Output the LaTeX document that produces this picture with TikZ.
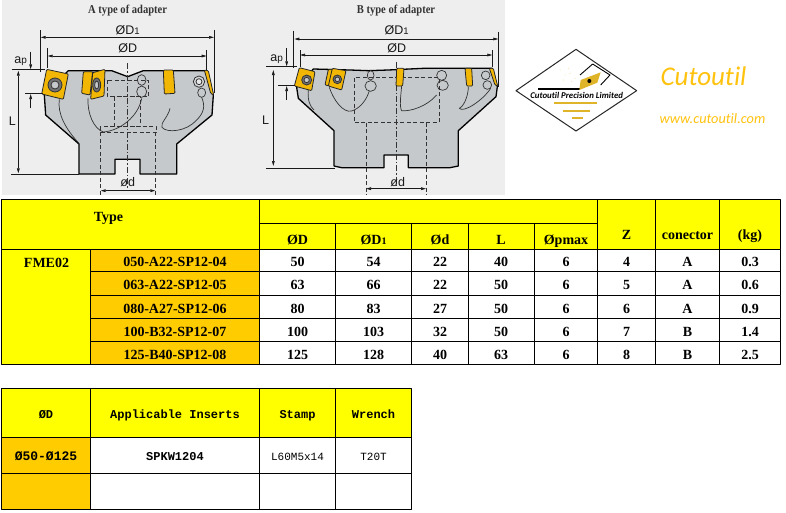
\documentclass[tikz,border=0pt]{standalone}
\usepackage{fontspec}
\setmainfont{Liberation Serif}
\newfontfamily\sansfnt{Liberation Sans}
\newfontfamily\monofnt{Liberation Mono}
\newfontfamily\logofnt[Ligatures=NoCommon]{Carlito}
\usetikzlibrary{arrows.meta}
\definecolor{headyellow}{HTML}{FFFF00}
\definecolor{codeorange}{HTML}{FFCC00}
\definecolor{sheetgray}{HTML}{EEEEEE}
\definecolor{toolgray}{HTML}{C6C9CB}
\definecolor{insertgold}{HTML}{F2B705}
\definecolor{logogold}{HTML}{FFC20E}
\definecolor{logoline}{HTML}{E0B428}
\tikzset{
	gridline/.style={draw=black, line width=1pt},
	tabtext/.style={font=\fontsize{14}{14}\selectfont\bfseries, inner sep=0pt, anchor=base},
	monohead/.style={font=\fontsize{12}{12}\monofnt\bfseries, inner sep=0pt, anchor=base},
	monotext/.style={font=\fontsize{11}{11}\monofnt, inner sep=0pt, anchor=base},
	sketchtitle/.style={font=\fontsize{12}{12}\selectfont\bfseries, text=black!80, inner sep=0pt},
	dimtext/.style={font=\fontsize{12.5}{12.5}\sansfnt, text=black!90, inner sep=0pt},
	dimline/.style={line width=0.65pt, black!90},
	hiddenline/.style={line width=1pt, black!80, dash pattern=on 4pt off 2.5pt},
	centerline/.style={line width=0.6pt, black!80, dash pattern=on 6pt off 2pt on 1.5pt off 2pt},
	toolbody/.style={draw=black, line width=1.3pt, fill=toolgray, line join=round},
	insertpiece/.style={draw=black!85, line width=0.8pt, fill=insertgold, rounded corners=1pt},
	flowline/.style={line width=0.7pt, black!80},
	screw/.style={draw=black!80, line width=0.8pt, fill=toolgray!70},
}
\begin{document}
\begin{tikzpicture}[x=1pt, y=-1pt, line join=round, >={Stealth[inset=0pt,length=5pt,angle'=30]}]
	\useasboundingbox (0,0) rectangle (786,512);
	\fill[sheetgray] (2,0) rectangle (505,195);
	% A type of adapter
	\begin{scope}[scale=1/3]
		\draw[toolbody] (133,285) -- (137,345) -- (237,432) -- (237,522) -- (345,522) -- (345,478) -- (420,478) -- (420,522) -- (530,522) -- (530,432) -- (636,345) -- (640,285) -- (615,212) -- (430,212) -- (383,230) -- (335,212) -- (205,212) -- cycle;
		\draw[flowline] (178,298) .. controls (172,340) and (195,385) .. (237,430);
		\draw[flowline] (264,295) .. controls (262,340) and (280,385) .. (310,396) .. controls (360,392) and (415,350) .. (425,295);
		\draw[flowline] (510,325) .. controls (505,350) and (480,370) .. (486,382) .. controls (500,400) and (560,395) .. (590,360) .. controls (610,340) and (618,320) .. (604,290);
		\draw[flowline, fill=toolgray] (425,240) ellipse (13 and 16);
		\draw[flowline, fill=toolgray] (425,275) ellipse (15 and 17);
		\draw[flowline, fill=toolgray] (605,278) ellipse (12 and 14);
		\draw[screw] (597,245) circle (17);
		\draw[screw, fill=toolgray!40] (597,245) circle (9);
		\draw[hiddenline] (322,240) rectangle (445,290);
		\draw[hiddenline] (343,290) rectangle (422,378);
		\draw[hiddenline] (300,380) rectangle (470,397);
		\draw[hiddenline] (302,397) -- (302,585);
		\draw[hiddenline] (466,397) -- (466,585);
		\draw[centerline] (383,190) -- (383,570);
		\draw[insertpiece] (140,208) -- (205,222) -- (190,298) -- (125,282) -- cycle;
		\draw[screw, fill=black!55] (165,255) circle (21);
		\draw[screw, fill=toolgray] (165,255) circle (12);
		\draw[insertpiece] (250,215) -- (278,215) -- (270,285) -- (245,280) -- cycle;
		\draw[insertpiece] (278,218) -- (315,208) -- (312,288) -- (272,298) -- cycle;
		\draw[screw, fill=black!55] (290,255) ellipse (12 and 21);
		\draw[screw, fill=toolgray] (290,255) ellipse (6 and 12);
		\draw[insertpiece] (490,210) -- (520,210) -- (525,280) -- (493,282) -- cycle;
		\draw[insertpiece] (613,210) -- (625,212) -- (641,285) -- (632,280) -- cycle;
		% dimensions
		\draw[dimline] (122,90) -- (122,215);
		\draw[dimline] (642,90) -- (642,280);
		\draw[dimline, <->] (122,112) -- (642,112);
		\draw[dimline] (143,145) -- (143,205);
		\draw[dimline] (620,150) -- (620,210);
		\draw[dimline, <->] (143,168) -- (620,168);
		\draw[dimline] (35,209) -- (135,209);
		\draw[dimline] (75,281) -- (130,281);
		\draw[dimline, ->] (92,155) -- (92,208);
		\draw[dimline, ->] (92,325) -- (92,282);
		\draw[dimline, <->] (55,212) -- (55,520);
		\draw[dimline] (33,522) -- (237,522);
		\draw[dimline, <->] (302,572) -- (466,572);
		\node[sketchtitle] (titlea) at (383,32) {\scalebox{0.88}[1]{A type of adapter}};
		\node[dimtext] (oddonea) at (383,92) {ØD{\fontsize{9.5}{9.5}\selectfont 1}};
		\node[dimtext] (odda) at (383,145) {ØD};
		\node[dimtext] (apa) at (62,183) {a{\fontsize{10}{10}\selectfont p}};
		\node[dimtext] (lena) at (37,365) {L};
		\node[dimtext] (bora) at (383,547) {ød};
	\end{scope}
	% B type of adapter
	\begin{scope}[shift={(250,0)}, scale=1/3]
		\draw[toolbody] (140,262) -- (145,295) -- (252,392) -- (252,498) -- (275,503) -- (402,503) -- (402,465) -- (475,465) -- (475,503) -- (600,503) -- (625,498) -- (625,392) -- (738,290) -- (742,260) -- (725,205) -- (520,205) -- (415,210) -- (355,212) -- (300,210) -- (190,207) -- cycle;
		\draw[flowline] (175,270) .. controls (172,300) and (180,320) .. (192,330);
		\draw[flowline] (238,262) .. controls (250,300) and (280,340) .. (305,333) .. controls (330,325) and (350,300) .. (358,272);
		\draw[flowline] (455,258) .. controls (452,290) and (448,320) .. (455,332) .. controls (480,335) and (530,320) .. (560,285);
		\draw[flowline] (655,260) .. controls (655,290) and (640,320) .. (628,325) .. controls (640,340) and (700,300) .. (722,265);
		\draw[flowline, fill=toolgray] (362,258) ellipse (17 and 16);
		\draw[flowline, fill=toolgray] (362,226) ellipse (10 and 14);
		\draw[flowline, fill=toolgray] (575,226) ellipse (15 and 15);
		\draw[flowline, fill=toolgray] (578,256) ellipse (17 and 15);
		\draw[flowline, fill=toolgray] (707,226) ellipse (13 and 13);
		\draw[flowline, fill=toolgray] (712,255) ellipse (13 and 13);
		\draw[hiddenline] (313,233) rectangle (567,368);
		\draw[hiddenline] (348,368) -- (348,583);
		\draw[hiddenline] (528,368) -- (528,583);
		\draw[centerline] (438,185) -- (438,560);
		\draw[insertpiece] (148,203) -- (195,215) -- (185,272) -- (133,258) -- cycle;
		\draw[screw, fill=black!55] (170,240) circle (15);
		\draw[screw, fill=toolgray] (170,240) circle (8);
		\draw[insertpiece] (235,208) -- (250,208) -- (240,258) -- (225,255) -- cycle;
		\draw[insertpiece] (247,205) -- (288,212) -- (275,270) -- (235,258) -- cycle;
		\draw[screw, fill=black!55] (262,238) circle (13);
		\draw[screw, fill=toolgray] (262,238) circle (7);
		\draw[insertpiece] (440,205) -- (462,205) -- (458,258) -- (438,258) -- cycle;
		\draw[insertpiece] (645,205) -- (665,205) -- (668,258) -- (650,258) -- cycle;
		\draw[insertpiece] (718,205) -- (730,205) -- (743,258) -- (735,255) -- cycle;
		% dimensions
		\draw[dimline] (131,92) -- (131,205);
		\draw[dimline] (746,95) -- (746,260);
		\draw[dimline, <->] (133,117) -- (745,117);
		\draw[dimline] (150,150) -- (150,200);
		\draw[dimline] (727,150) -- (727,200);
		\draw[dimline, <->] (150,165) -- (727,165);
		\draw[dimline] (48,200) -- (140,200);
		\draw[dimline] (85,257) -- (135,257);
		\draw[dimline, ->] (110,145) -- (110,199);
		\draw[dimline, ->] (110,300) -- (110,258);
		\draw[dimline, <->] (70,210) -- (70,498);
		\draw[dimline] (48,506) -- (255,506);
		\draw[dimline, <->] (348,566) -- (528,566);
		\node[sketchtitle] (titleb) at (438,32) {\scalebox{0.88}[1]{B type of adapter}};
		\node[dimtext] (oddoneb) at (440,92) {ØD{\fontsize{9.5}{9.5}\selectfont 1}};
		\node[dimtext] (oddb) at (440,145) {ØD};
		\node[dimtext] (apb) at (80,177) {a{\fontsize{10}{10}\selectfont p}};
		\node[dimtext] (lenb) at (47,360) {L};
		\node[dimtext] (borb) at (443,547) {ød};
	\end{scope}
	% logo
	\begin{scope}[shift={(510,40)}, scale=1/3]
		\foreach \dx/\dy in {150/90, 165/105, 180/100, 185/125, 160/120, 175/85, 195/115}
			\fill[logoline!50] (\dx,\dy) circle (1.5);
		\draw[black!85, line width=1pt] (198,28) -- (380,152) -- (198,273) -- (18,152) -- cycle;
		\draw[black, line width=1.2pt] (85,147) -- (210,147);
		\draw[black, line width=0.9pt] (210,105) -- (248,72);
		\draw[black, line width=0.9pt] (248,72) -- (300,105) -- (272,135);
		\fill[logoline] (212,120) -- (272,97) -- (262,128) -- (208,150) -- cycle;
		\fill[black] (238,123) circle (6);
		\draw[logoline, line width=1.8pt] (132,190) -- (262,190);
		\draw[logoline, line width=1.8pt] (160,213) -- (240,213);
		\draw[logoline, line width=1.8pt] (185,233) -- (218,233);
		\node[font=\fontsize{8.8}{8.8}\logofnt\bfseries\itshape, inner sep=0pt] (logoname) at (200,165) {Cutoutil Precision Limited};
	\end{scope}
	\node[font=\fontsize{27}{27}\logofnt\itshape, text=logogold, inner sep=0pt] (brand) at (703.5,76.5) {Cutoutil};
	\node[font=\fontsize{14.3}{14.3}\logofnt\itshape, text=logogold, inner sep=0pt] (website) at (712.5,118.5) {www.cutoutil.com};
	% main table
	\draw[gridline, fill=headyellow] (1.5,199.5) rectangle (259.5,249);
	\draw[gridline, fill=headyellow] (259.5,199.5) rectangle (597.5,223);
	\foreach \xa/\xb in {259.5/335.5, 335.5/411.5, 411.5/468.5, 468.5/534, 534/597.5}
		\draw[gridline, fill=headyellow] (\xa,223) rectangle (\xb,249);
	\foreach \xa/\xb in {597.5/655.5, 655.5/719.5, 719.5/780.5}
		\draw[gridline, fill=headyellow] (\xa,199.5) rectangle (\xb,249);
	\draw[gridline, fill=headyellow] (1.5,249) rectangle (90.5,364.5);
	\node[tabtext] (typehead) at (108.5,221.7) {Type};
	\node[tabtext] (famname) at (46.5,267.3) {FME02};
	\foreach \cname/\xc/\htext in {od/297.5/ØD, odone/373.5/{ØD{\fontsize{10}{10}\selectfont 1}}, bore/440/Ød, len/501/L, pmax/566/Øpmax, teeth/626.5/Z, conn/687.5/conector, mass/750/(kg)}
		\node[tabtext] (head\cname) at (\xc,\ifdim\xc pt>597.5pt 239.2\else 244\fi) {\htext};
	\foreach \r/\ya/\yb/\code/\da/\db/\dc/\dl/\z/\con/\kg in {
		1/249/271.5/050-A22-SP12-04/50/54/22/40/4/A/0.3,
		2/271.5/295/063-A22-SP12-05/63/66/22/50/5/A/0.6,
		3/295/318/080-A27-SP12-06/80/83/27/50/6/A/0.9,
		4/318/341.5/100-B32-SP12-07/100/103/32/50/7/B/1.4,
		5/341.5/364.5/125-B40-SP12-08/125/128/40/63/8/B/2.5}{
		\pgfmathsetmacro{\ym}{(\ya+\yb)/2+6.6}
		\draw[gridline, fill=codeorange] (90.5,\ya) rectangle (259.5,\yb);
		\foreach \xa/\xb in {259.5/335.5, 335.5/411.5, 411.5/468.5, 468.5/534, 534/597.5, 597.5/655.5, 655.5/719.5, 719.5/780.5}
			\draw[gridline, fill=white] (\xa,\ya) rectangle (\xb,\yb);
		\node[tabtext] (code\r) at (175,\ym) {\code};
		\node[tabtext] (od\r) at (297.5,\ym) {\da};
		\node[tabtext] (odone\r) at (373.5,\ym) {\db};
		\node[tabtext] (bore\r) at (440,\ym) {\dc};
		\node[tabtext] (len\r) at (501,\ym) {\dl};
		\node[tabtext] (pmax\r) at (566,\ym) {6};
		\node[tabtext] (teeth\r) at (626.5,\ym) {\z};
		\node[tabtext] (conn\r) at (687.5,\ym) {\con};
		\node[tabtext] (mass\r) at (750,\ym) {\kg};
	}
	% insert table
	\foreach \xa/\xb in {1.5/90.5, 90.5/259.5, 259.5/335.5, 335.5/411.5}
		\draw[gridline, fill=headyellow] (\xa,388.5) rectangle (\xb,437.5);
	\foreach \ya/\yb in {437.5/473.5, 473.5/509.5}{
		\draw[gridline, fill=codeorange] (1.5,\ya) rectangle (90.5,\yb);
		\foreach \xa/\xb in {90.5/259.5, 259.5/335.5, 335.5/411.5}
			\draw[gridline, fill=white] (\xa,\ya) rectangle (\xb,\yb);
	}
	\node[monohead] (partod) at (46,418) {ØD};
	\node[monohead] (partinsert) at (175,418) {Applicable Inserts};
	\node[monohead] (partstamp) at (297.5,418) {Stamp};
	\node[monohead] (partwrench) at (373.5,418) {Wrench};
	\node[monohead, font=\fontsize{13}{13}\monofnt\bfseries] (rangeod) at (46,460) {Ø50-Ø125};
	\node[monohead] (insertname) at (175,460) {SPKW1204};
	\node[monotext] (stampname) at (297.5,460) {L60M5x14};
	\node[monotext] (wrenchname) at (373.5,460) {T20T};
\end{tikzpicture}
\end{document}
